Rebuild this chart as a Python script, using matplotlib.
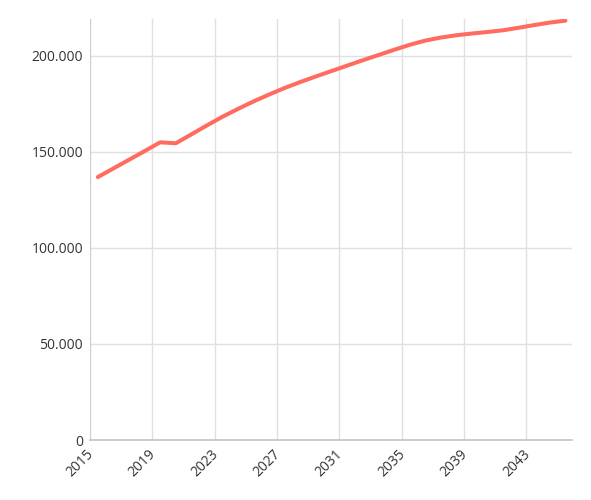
import matplotlib
matplotlib.use("Agg")
import matplotlib.pyplot as plt
from matplotlib.ticker import FuncFormatter
import matplotlib.transforms as mtransforms
import numpy as np

years = list(range(2015, 2046))
values = [136.8, 141.3, 145.8, 150.3, 154.9, 154.4, 159.0, 163.7, 168.2, 172.3,
          176.2, 179.8, 183.2, 186.3, 189.2, 192.0, 194.8, 197.6, 200.3, 203.0,
          205.6, 207.8, 209.4, 210.6, 211.5, 212.3, 213.2, 214.5, 215.9, 217.2, 218.2]
values = [v * 1000 for v in values]
x_ticks = list(range(2015, 2046, 4))
y_ticks = [0, 50000, 100000, 150000, 200000]

plt.rcParams['font.family'] = ['Open Sans', 'DejaVu Sans']

fig = plt.figure(figsize=(5.91, 5.0), dpi=100)
ax = fig.add_axes([90/591, 1-440/500, (571.7-90)/591, (440-19.3)/500])

x = np.array(years) + 0.5
ax.plot(x, values, color='#FF6B5E', lw=2.9, solid_capstyle='round', solid_joinstyle='round', zorder=3)

ax.set_xlim(2015, 2045.9)
ax.set_ylim(0, 218900)
ax.set_xticks(x_ticks)
ax.set_xticklabels([str(t) for t in x_ticks], rotation=45, ha='right', rotation_mode='anchor')
ax.set_yticks(y_ticks)
ax.yaxis.set_major_formatter(FuncFormatter(lambda v, p: f"{int(v):,}".replace(',', '.')))

ax.grid(True, color='#e0e0e0', lw=1.0, zorder=0)
ax.tick_params(axis='both', length=0, labelsize=10, colors='#333333')
ax.tick_params(axis='x', pad=5)
ax.tick_params(axis='y', pad=5)
offset = mtransforms.ScaledTranslation(-4/100, 0, fig.dpi_scale_trans)
for lab in ax.get_xticklabels():
    lab.set_transform(lab.get_transform() + offset)
for s in ['top', 'right']:
    ax.spines[s].set_visible(False)
ax.spines['left'].set_color('#d0d0d0')
ax.spines['bottom'].set_color('#c4c4c4')
ax.spines['bottom'].set_linewidth(1.2)

fig.savefig('out.png', dpi=100)
